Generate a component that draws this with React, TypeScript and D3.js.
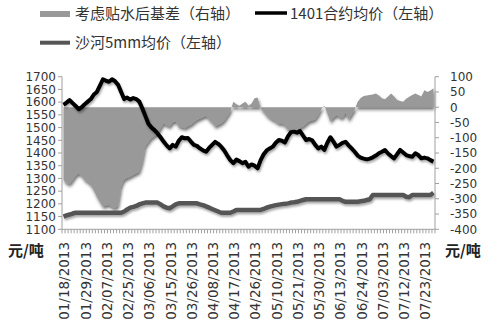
import React from "react";
import * as d3 from "d3";

const dates: string[] = [
  "01/18/2013","01/21/2013","01/22/2013","01/23/2013","01/24/2013","01/25/2013","01/28/2013","01/29/2013","01/30/2013","01/31/2013",
  "02/01/2013","02/04/2013","02/05/2013","02/06/2013","02/07/2013","02/08/2013","02/18/2013","02/19/2013","02/20/2013","02/21/2013","02/22/2013","02/25/2013","02/26/2013","02/27/2013","02/28/2013",
  "03/01/2013","03/04/2013","03/05/2013","03/06/2013","03/07/2013","03/08/2013","03/11/2013","03/12/2013","03/13/2013","03/14/2013","03/15/2013","03/18/2013","03/19/2013","03/20/2013","03/21/2013","03/22/2013","03/25/2013","03/26/2013","03/27/2013","03/28/2013","03/29/2013",
  "04/01/2013","04/02/2013","04/03/2013","04/08/2013","04/09/2013","04/10/2013","04/11/2013","04/12/2013","04/15/2013","04/16/2013","04/17/2013","04/18/2013","04/19/2013","04/22/2013","04/23/2013","04/24/2013","04/25/2013","04/26/2013",
  "05/02/2013","05/03/2013","05/06/2013","05/07/2013","05/08/2013","05/09/2013","05/10/2013","05/13/2013","05/14/2013","05/15/2013","05/16/2013","05/17/2013","05/20/2013","05/21/2013","05/22/2013","05/23/2013","05/24/2013","05/27/2013","05/28/2013","05/29/2013","05/30/2013","05/31/2013",
  "06/03/2013","06/04/2013","06/05/2013","06/06/2013","06/07/2013","06/13/2013","06/14/2013","06/17/2013","06/18/2013","06/19/2013","06/20/2013","06/21/2013","06/24/2013","06/25/2013","06/26/2013","06/27/2013","06/28/2013",
  "07/01/2013","07/02/2013","07/03/2013","07/04/2013","07/05/2013","07/08/2013","07/09/2013","07/10/2013","07/11/2013","07/12/2013","07/15/2013","07/16/2013","07/17/2013","07/18/2013","07/19/2013","07/22/2013","07/23/2013","07/24/2013","07/25/2013","07/26/2013",
];

// 1401合约均价（左轴）
const price1401: number[] = [
  1589,1598,1608,1596,1585,1572,1580,1592,1602,1612,
  1630,1640,1665,1690,1684,1680,1690,1682,1668,1640,
  1612,1618,1610,1616,1612,1602,1575,1545,1515,1500,
  1490,1477,1462,1445,1430,1418,1432,1425,1448,1462,
  1458,1459,1445,1432,1428,1418,1410,1405,1420,1432,
  1444,1436,1425,1410,1390,1372,1360,1374,1368,1360,
  1365,1346,1355,1350,1340,1372,1395,1410,1418,1425,
  1440,1451,1448,1441,1465,1482,1484,1480,1486,1468,
  1451,1455,1450,1432,1418,1425,1412,1440,1462,1445,
  1425,1432,1440,1444,1430,1418,1405,1390,1382,1378,
  1375,1378,1383,1390,1399,1405,1412,1398,1388,1379,
  1395,1412,1402,1392,1388,1385,1399,1392,1379,1382,
  1379,1372,1366,
];

// 沙河5mm均价（左轴）
const shahe5mm: number[] = [
  1150,1155,1158,1162,1165,1165,1165,1165,1165,1165,
  1165,1165,1165,1165,1165,1165,1165,1165,1165,1165,
  1170,1178,1185,1188,1192,1198,1202,1205,1205,1205,
  1205,1205,1198,1190,1185,1183,1190,1198,1202,1202,
  1202,1202,1202,1202,1202,1198,1195,1190,1185,1180,
  1175,1170,1165,1165,1165,1165,1170,1176,1176,1176,
  1176,1176,1176,1176,1176,1176,1180,1185,1189,1192,
  1195,1197,1199,1200,1202,1205,1206,1208,1212,1215,
  1218,1218,1218,1218,1218,1218,1218,1218,1218,1218,
  1218,1218,1212,1208,1208,1208,1208,1208,1210,1212,
  1215,1218,1235,1235,1235,1235,1235,1235,1235,1235,
  1235,1235,1235,1228,1226,1235,1235,1235,1235,1235,
  1235,1235,1244,
];

// 考虑贴水后基差（右轴）
const basis: number[] = [
  -239,-248,-252,-240,-225,-217,-225,-239,-245,-255,
  -272,-293,-310,-326,-322,-320,-328,-331,-322,-260,
  -238,-232,-228,-222,-217,-212,-180,-129,-115,-102,
  -95,-88,-70,-53,-60,-64,-50,-47,-64,-66,
  -69,-63,-58,-50,-42,-38,-33,-29,-40,-50,
  -63,-58,-53,-45,-30,-15,18,10,5,12,
  18,5,12,29,32,-5,-15,-28,-36,-42,
  -48,-55,-53,-60,-75,-72,-75,-73,-68,-64,
  -55,-47,-44,-40,-26,-7,5,-20,-47,-35,
  -26,-33,-36,-20,-42,-25,-9,18,30,37,
  38,40,42,45,38,29,26,35,45,35,
  24,20,18,28,34,40,45,40,35,56,
  50,55,62,
];

const leftTicks: number[] = [1100,1150,1200,1250,1300,1350,1400,1450,1500,1550,1600,1650,1700];
const rightTicks: number[] = [-400,-350,-300,-250,-200,-150,-100,-50,0,50,100];
const legendLabels: string[] = ["考虑贴水后基差（右轴）", "1401合约均价（左轴）", "沙河5mm均价（左轴）"];
const unitLabel = "元/吨";

export default function App() {
  const W = 500, H = 334;
  const x0 = 62, x1 = 435, yTop = 76.7, yBot = 229.3;
  const x = d3.scaleBand<string>().domain(dates).range([x0, x1]).padding(0);
  const bw = x.bandwidth();
  const cx = (i: number) => (x(dates[i]) as number) + bw / 2;
  const yL = d3.scaleLinear().domain([1100, 1700]).range([yBot, yTop]);
  const yR = d3.scaleLinear().domain([-400, 100]).range([yBot, yTop]);

  const area = d3.area<number>().x((_, i) => cx(i)).y0(yR(0)).y1((d) => yR(d));
  const lineL = d3.line<number>().x((_, i) => cx(i)).y((d) => yL(d));

  const axisColor = "#a0a0a0";
  const labelFont = "'DejaVu Sans', Verdana, sans-serif";
  const cjkFont = "'Noto Sans CJK SC', sans-serif";

  return (
    <svg width={W} height={H} style={{ position: "absolute", left: 0, top: 0, background: "#fff" }}>
      <defs>
        <filter id="shA" x="-5%" y="-10%" width="110%" height="130%">
          <feDropShadow dx="1" dy="2.5" stdDeviation="1.6" floodColor="#222" floodOpacity="0.65" />
        </filter>
        <filter id="shL" x="-5%" y="-10%" width="110%" height="130%">
          <feDropShadow dx="1" dy="2" stdDeviation="1.2" floodColor="#000" floodOpacity="0.35" />
        </filter>
      </defs>
      <rect x={0} y={0} width={W} height={H} fill="#fff" />

      {/* legend */}
      <rect x={40} y={11} width={30} height={6} fill="#999" />
      <text x={75} y={19} fontFamily={cjkFont} fontSize={15} fill="#333">{legendLabels[0]}</text>
      <line x1={255} x2={287} y1={13} y2={13} stroke="#000" strokeWidth={3.5} />
      <text x={290} y={19} fontFamily={cjkFont} fontSize={15} fill="#333">{legendLabels[1]}</text>
      <line x1={40} x2={70} y1={42.7} y2={42.7} stroke="#555" strokeWidth={4} />
      <text x={75} y={48} fontFamily={cjkFont} fontSize={15} fill="#333">{legendLabels[2]}</text>

      {/* series */}
      <path d={area(basis) || ""} fill="#999" filter="url(#shA)" />
      <path d={lineL(shahe5mm) || ""} fill="none" stroke="#555" strokeWidth={4.5} strokeLinejoin="round" filter="url(#shL)" />
      <path d={lineL(price1401) || ""} fill="none" stroke="#000" strokeWidth={4} strokeLinejoin="round" filter="url(#shL)" />

      {/* left axis */}
      <line x1={x0} x2={x0} y1={yTop} y2={yBot} stroke={axisColor} />
      {leftTicks.map((t) => (
        <g key={"l" + t}>
          <line x1={x0 - 4} x2={x0} y1={yL(t)} y2={yL(t)} stroke={axisColor} />
          <text x={56} y={yL(t)} dy="0.36em" textAnchor="end" fontFamily={labelFont} fontSize={12} fill="#333">{t}</text>
        </g>
      ))}

      {/* right axis */}
      <line x1={x1} x2={x1} y1={yTop} y2={yBot} stroke={axisColor} />
      {rightTicks.map((t) => (
        <g key={"r" + t}>
          <line x1={x1} x2={x1 + 4} y1={yR(t)} y2={yR(t)} stroke={axisColor} />
          <text x={450} y={yR(t)} dy="0.36em" textAnchor="start" fontFamily={labelFont} fontSize={12} fill="#333">{t}</text>
        </g>
      ))}

      {/* bottom axis */}
      <line x1={x0} x2={x1} y1={yBot} y2={yBot} stroke={axisColor} />
      {dates.map((d, i) => (
        <line key={"t" + i} x1={x(d) as number} x2={x(d) as number} y1={yBot} y2={yBot + 4} stroke={axisColor} />
      ))}
      <line x1={x1} x2={x1} y1={yBot} y2={yBot + 4} stroke={axisColor} />
      {dates.map((d, i) =>
        i % 7 === 0 ? (
          <text
            key={"x" + i}
            transform={`translate(${cx(i) + 1},${242}) rotate(-90)`}
            dy="0.36em"
            textAnchor="end"
            fontFamily={labelFont}
            fontSize={13.5}
            fill="#333"
          >
            {d}
          </text>
        ) : null
      )}

      {/* units */}
      <text x={8} y={256} fontFamily={cjkFont} fontSize={15} fontWeight="bold" fill="#222">{unitLabel}</text>
      <text x={445} y={256} fontFamily={cjkFont} fontSize={15} fontWeight="bold" fill="#222">{unitLabel}</text>
    </svg>
  );
}
